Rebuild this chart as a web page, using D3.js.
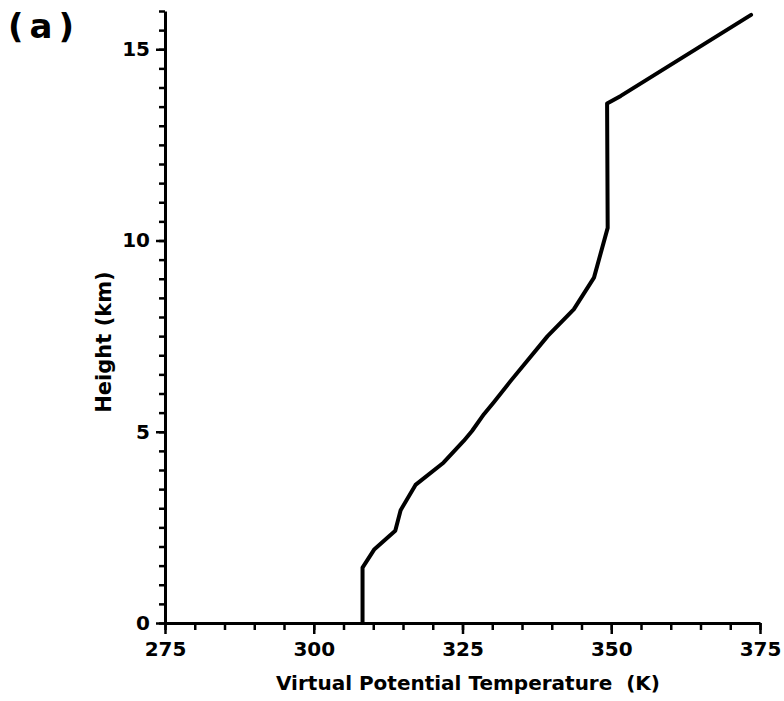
<!DOCTYPE html>
<html>
<head>
<meta charset="utf-8">
<script src="https://cdn.jsdelivr.net/npm/d3@7"></script>
<style>
    body { margin: 0; background: #fff; }
    text { font-family: "DejaVu Sans", sans-serif; font-weight: bold; fill: #000; }
</style>
</head>
<body>
<svg id="chart"></svg>
<script>
// profile: virtual potential temperature (K) vs height (km)
var theta  = [308.2, 308.2, 310.2, 313.7, 314.6, 317.1, 321.8, 325.2, 326.6, 328.6, 330.3, 333.1, 339.3, 343.7, 347.1, 349.4, 349.3, 351.6, 373.5];
var height = [0.0,   1.45,  1.93,  2.41,  2.95,  3.61,  4.19,  4.76,  5.02,  5.46,  5.78,  6.33,  7.5,   8.2,   9.03,  10.33, 13.58, 13.78, 15.9];

var xMajor = [275, 300, 325, 350, 375];
var yMajor = [0, 5, 10, 15];

var svgWidth = 784, svgHeight = 701;
var svg = d3.select('#chart')
    .attr("width", svgWidth)
    .attr("height", svgHeight);

var x = d3.scaleLinear().domain([275, 375]).range([165, 760]);
var y = d3.scaleLinear().domain([0, 16]).range([623, 11]);

var data = theta.map(function(t, i) { return {t: t, h: height[i]}; });

// minor ticks first so the major ones sit on top
svg.append("g")
    .attr("transform", "translate(0,623)")
    .call(d3.axisBottom(x).tickValues(d3.range(275, 376, 5)).tickSize(7).tickSizeOuter(0).tickFormat(""))
    .call(function(g) { g.select(".domain").remove(); g.selectAll("line").attr("stroke-width", 2.5); });
svg.append("g")
    .attr("transform", "translate(165,0)")
    .call(d3.axisLeft(y).tickValues(d3.range(0, 16.01, 0.5)).tickSize(6).tickSizeOuter(0).tickFormat(""))
    .call(function(g) { g.select(".domain").remove(); g.selectAll("line").attr("stroke-width", 2.5); });

var xAxis = svg.append("g")
    .attr("transform", "translate(0,623)")
    .call(d3.axisBottom(x).tickValues(xMajor).tickSize(11).tickSizeOuter(0).tickPadding(8));
xAxis.select(".domain").attr("stroke-width", 3);
xAxis.selectAll("line").attr("stroke-width", 2.5);
xAxis.selectAll("text").attr("font-size", 20).attr("font-family", null);

var yAxis = svg.append("g")
    .attr("transform", "translate(165,0)")
    .call(d3.axisLeft(y).tickValues(yMajor).tickSize(9).tickSizeOuter(0).tickPadding(6));
yAxis.select(".domain").attr("stroke-width", 3);
yAxis.selectAll("line").attr("stroke-width", 2.5);
yAxis.selectAll("text").attr("font-size", 20).attr("font-family", null);

var line = d3.line()
    .x(function(d) { return x(d.t); })
    .y(function(d) { return y(d.h); });

svg.append("path")
    .datum(data)
    .attr("fill", "none")
    .attr("stroke", "#000")
    .attr("stroke-width", 4)
    .attr("stroke-linejoin", "round")
    .attr("stroke-linecap", "round")
    .attr("d", line);

svg.append("text")
    .attr("x", 468)
    .attr("y", 690)
    .attr("text-anchor", "middle")
    .attr("font-size", 20)
    .attr("xml:space", "preserve")
    .text("Virtual Potential Temperature  (K)");

svg.append("text")
    .attr("transform", "translate(111,342) rotate(-90)")
    .attr("text-anchor", "middle")
    .attr("font-size", 21)
    .text("Height (km)");

svg.append("text")
    .attr("x", 8)
    .attr("y", 38)
    .attr("font-size", 34)
    .attr("letter-spacing", 6)
    .text("(a)");
</script>
</body>
</html>
